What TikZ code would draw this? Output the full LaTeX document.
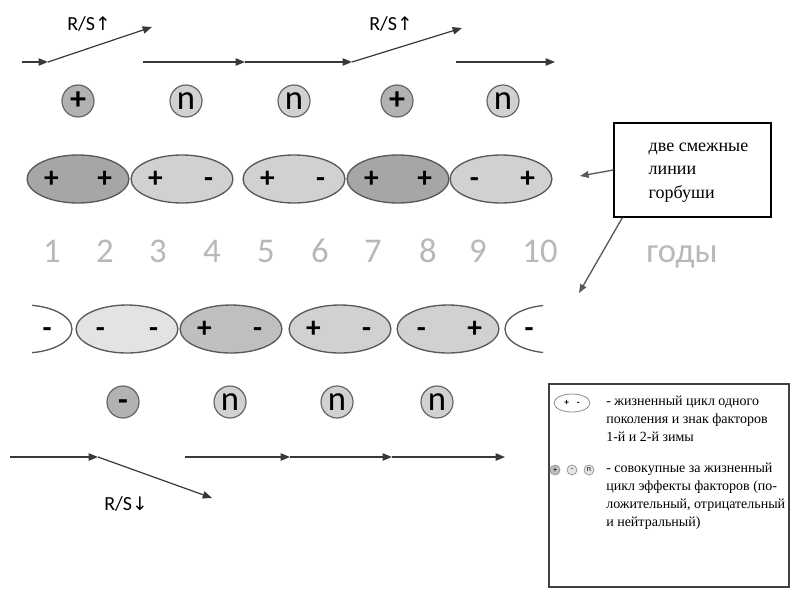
\documentclass[tikz,border=0pt]{standalone}
\usepackage{fontspec}
\setmainfont{Liberation Serif}
\newfontfamily\calib{Carlito}
\newfontfamily\arrfont{DejaVu Sans}
\usepackage{tikz}
\usetikzlibrary{arrows.meta, shapes.geometric, calc}

\newcommand{\pair}[2]{\vphantom{+}\makebox[14pt]{#1}\hspace{26pt}\makebox[14pt]{#2}}

\begin{document}
\begin{tikzpicture}[
        x=0.75pt, y=-0.75pt,
        cyc/.style={
            ellipse, draw=black!65, line width=1pt, minimum width=72pt,
            minimum height=36pt, inner sep=0pt,
            font=\calib\bfseries\fontsize{22}{22}\selectfont
        },
        darkcyc/.style={cyc, fill=black!35},
        midcyc/.style={cyc, fill=black!25},
        lightcyc/.style={cyc, fill=black!18},
        palecyc/.style={cyc, fill=black!11},
        eff/.style={
            circle, draw=black!60, line width=0.9pt, minimum size=24pt,
            inner sep=0pt, font=\calib\fontsize{26}{26}\selectfont
        },
        poseff/.style={eff, fill=black!30, font=\calib\bfseries\fontsize{24}{24}\selectfont},
        neueff/.style={eff, fill=black!18},
        flow/.style={-{Triangle[length=7pt, width=5.5pt]}, line width=0.9pt, black!78},
        ptr/.style={-{Triangle[length=6.5pt, width=5pt]}, line width=1pt, black!65},
        rs/.style={font=\calib\fontsize{15}{15}\selectfont, anchor=base},
        yr/.style={font=\calib\fontsize{26}{26}\selectfont, text=black!28, anchor=base},
        sgn/.style={font=\calib\bfseries\fontsize{22}{22}\selectfont},
        note/.style={draw=black, line width=0.9pt, minimum width=117.75pt,
            minimum height=70.5pt, inner sep=0pt,
            font=\fontsize{13.5}{17.5}\selectfont},
        leg/.style={draw=black!75, line width=1.1pt, minimum width=180pt,
            minimum height=152.25pt, inner sep=0pt},
        legtxt/.style={anchor=north west, inner sep=0pt, align=left,
            font=\fontsize{10.5}{13.5}\selectfont},
        legcyc/.style={ellipse, draw=black!45, line width=0.6pt, minimum width=27pt,
            minimum height=13.5pt, inner sep=0pt, font=\calib\bfseries\fontsize{7}{7}\selectfont},
        legeff/.style={circle, draw=black!45, line width=0.5pt, minimum size=7.5pt,
            inner sep=0pt, font=\calib\fontsize{6}{6}\selectfont}
    ]
    \useasboundingbox (0,0) rectangle (791,589);

    % === Upper line: recruitment arrows ===
    \coordinate (t0) at (22,62);
    \coordinate (t1) at (48,62);
    \coordinate (t2) at (152,27);
    \coordinate (t3) at (143,62);
    \coordinate (t4) at (245,62);
    \coordinate (t5) at (352,62);
    \coordinate (t6) at (462,28);
    \coordinate (t7) at (456,62);
    \coordinate (t8) at (555,62);
    \draw[flow] (t0) -- (t1);
    \draw[flow] (t1) -- (t2);
    \draw[flow] (t3) -- (t4);
    \draw[flow] (t4) -- (t5);
    \draw[flow] (t5) -- (t6);
    \draw[flow] (t7) -- (t8);
    \node[rs] (rs1) at (89,30) {R/S{\arrfont\fontsize{14}{14}\selectfont ↑}};
    \node[rs] (rs2) at (391,30) {R/S{\arrfont\fontsize{14}{14}\selectfont ↑}};

    % === Upper line: total effects ===
    \node[poseff] (u1) at (78,101) {+};
    \node[neueff] (u2) at (186,101) {n};
    \node[neueff] (u3) at (294,101) {n};
    \node[poseff] (u4) at (397,101) {+};
    \node[neueff] (u5) at (503,101) {n};

    % === Upper line: life cycles ===
    \node[darkcyc] (c1) at (78,179) {\pair{+}{+}};
    \node[lightcyc] (c2) at (182,179) {\pair{+}{-}};
    \node[lightcyc] (c3) at (294,179) {\pair{+}{-}};
    \node[darkcyc] (c4) at (398,179) {\pair{+}{+}};
    \node[lightcyc] (c5) at (501,179) {\pair{-}{+}};

    % === Years ===
    \foreach \n/\px in {1/52, 2/105, 3/158, 4/212, 5/266, 6/320, 7/373, 8/428, 9/478, 10/540}
        \node[yr] (y\n) at (\px,262) {\n};
    \node[yr] (yrs) at (682,262) {годы};

    % === Lower line: life cycles ===
    \begin{scope}
        \clip (32,300) rectangle (80,360);
        \draw[black!65, line width=1pt] (24,329) ellipse [x radius=48, y radius=24];
    \end{scope}
    \begin{scope}
        \clip (500,300) rectangle (543,360);
        \draw[black!65, line width=1pt] (553,329) ellipse [x radius=48, y radius=24];
    \end{scope}
    \node[sgn] (d0) at (47,329) {\vphantom{+}-};
    \node[palecyc] (d1) at (127,329) {\pair{-}{-}};
    \node[midcyc] (d2) at (231,329) {\pair{+}{-}};
    \node[lightcyc] (d3) at (340,329) {\pair{+}{-}};
    \node[lightcyc] (d4) at (448,329) {\pair{-}{+}};
    \node[sgn] (d5) at (529,329) {\vphantom{+}-};

    % === Lower line: total effects ===
    \node[poseff] (l1) at (123,402) {\vphantom{+}-};
    \node[neueff] (l2) at (230,402) {n};
    \node[neueff] (l3) at (337,402) {n};
    \node[neueff] (l4) at (437,402) {n};

    % === Lower line: recruitment arrows ===
    \coordinate (b0) at (10,457);
    \coordinate (b1) at (98,457);
    \coordinate (b2) at (212,498);
    \coordinate (b3) at (185,457);
    \coordinate (b4) at (290,457);
    \coordinate (b5) at (392,457);
    \coordinate (b6) at (505,457);
    \draw[flow] (b0) -- (b1);
    \draw[flow] (b1) -- (b2);
    \draw[flow] (b3) -- (b4);
    \draw[flow] (b4) -- (b5);
    \draw[flow] (b5) -- (b6);
    \node[rs] (rs3) at (126,510) {R/S{\arrfont\fontsize{14}{14}\selectfont ↓}};

    % === Callout ===
    \node[note] (lines) at (692.5,170) {\hspace*{9pt}\begin{tabular}{@{}l@{}}две смежные\\линии\\горбуши\end{tabular}};
    \coordinate (p1) at (580,176);
    \coordinate (p2) at (579,293);
    \draw[ptr] (lines.west) -- (p1);
    \draw[ptr] ($(lines.south west)+(9,0)$) -- (p2);

    % === Legend ===
    \node[leg] (key) at (669,485.5) {};
    \node[legcyc] (k1) at (572,403) {+\hspace{6pt}-};
    \node[legtxt] (k1t) at (606,396) {- жизненный цикл одного\\поколения и знак факторов\\1-й и 2-й зимы};
    \node[legeff, fill=black!25] (k2a) at (555,470) {+};
    \node[legeff, fill=black!10] (k2b) at (572,470) {-};
    \node[legeff, fill=black!10] (k2c) at (589,470) {n};
    \node[legtxt] (k2t) at (606,463) {- совокупные за жизненный\\цикл эффекты факторов (по-\\ложительный, отрицательный\\и нейтральный)};

\end{tikzpicture}
\end{document}
